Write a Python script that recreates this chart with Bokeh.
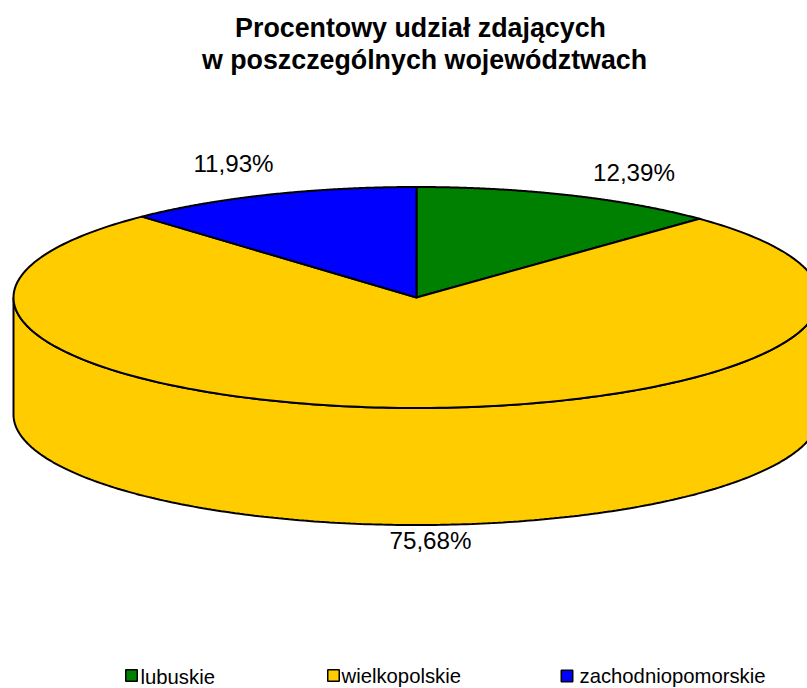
import numpy as np
from bokeh.plotting import figure
from bokeh.core.properties import value
from bokeh.embed import file_html
from bokeh.resources import INLINE

categories = ["lubuskie", "wielkopolskie", "zachodniopomorskie"]
shares = [12.39, 75.68, 11.93]
share_labels = ["12,39%", "75,68%", "11,93%"]
colors = ["#008000", "#FFCC00", "#0000FF"]
title_lines = ["Procentowy udział zdających", "w poszczególnych województwach"]

CX, CY, RX, RY, DEPTH = 416.0, 297.0, 403.0, 110.5, 117.0
FONT = value("Liberation Sans")

p = figure(width=807, height=688, x_range=(0, 807), y_range=(688, 0),
           toolbar_location=None, output_backend="svg", min_border=0,
           outline_line_color=None)
p.axis.visible = False
p.grid.visible = False

def rim(a0, a1, n=240):
    t = np.radians(np.linspace(a0, a1, n))
    return CX + RX * np.sin(t), CY - RY * np.cos(t)

# side wall: the front half of the rim, shifted down by the depth
fx, fy = rim(90, 270)
p.patch(np.r_[fx, fx[::-1]], np.r_[fy + DEPTH, fy[::-1]],
        fill_color=colors[1], line_color="black", line_width=2)

# top face: one wedge per share, clockwise from twelve o'clock
start = 0.0
for s, c in zip(shares, colors):
    end = start + s / sum(shares) * 360.0
    x, y = rim(start, end)
    p.patch(np.r_[CX, x], np.r_[CY, y], fill_color=c, line_color="black",
            line_width=2, line_join="round")
    start = end

# share labels
p.text([633.5, 430, 233], [172, 540, 163], text=share_labels, text_font=FONT,
       text_font_size="24.2px", text_color="black", text_align="center", text_baseline="middle")

# title
p.text([420, 424], [27, 59], text=title_lines, text_font=FONT, text_font_style="bold",
       text_font_size="26.8px", text_color="black", text_align="center", text_baseline="middle")

# legend
p.scatter([131, 333, 566.5], [675, 675, 675.5], marker="square", size=11.5, fill_color=colors,
          line_color="black", line_width=1.5)
p.text([140, 341, 579], [676.5, 675, 675], text=categories, text_font=FONT,
       text_font_size="20.3px", text_color="black", text_align="left", text_baseline="middle")

open("out.html", "w").write(file_html(p, INLINE))
